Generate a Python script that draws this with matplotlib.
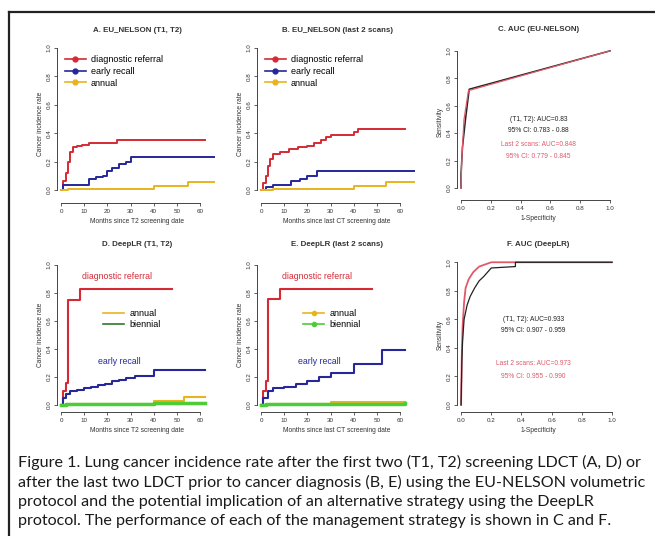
import matplotlib
matplotlib.use("Agg")
import matplotlib.pyplot as plt
from matplotlib.lines import Line2D

W, H = 655, 536

# ---------------- data ----------------
months_ticks = [0, 10, 20, 30, 40, 50, 60]
rate_ticks = [0.0, 0.2, 0.4, 0.6, 0.8, 1.0]
roc_ticks = [0.0, 0.2, 0.4, 0.6, 0.8, 1.0]

# A. EU_NELSON (T1, T2)
a_diag_t = [0, 1, 2, 3, 4, 5, 7, 9, 12, 24, 62]
a_diag_v = [0, 0.06, 0.12, 0.20, 0.27, 0.30, 0.31, 0.32, 0.33, 0.35, 0.35]
a_early_t = [0, 1, 12, 15, 18, 20, 22, 25, 28, 30, 66]
a_early_v = [0, 0.035, 0.08, 0.09, 0.10, 0.13, 0.155, 0.18, 0.20, 0.23, 0.23]
a_annual_t = [0, 3, 20, 40, 55, 66]
a_annual_v = [0, 0.005, 0.01, 0.025, 0.055, 0.055]

# B. EU_NELSON (last 2 scans)
b_diag_t = [0, 1, 2, 3, 4, 5, 8, 12, 16, 20, 23, 26, 28, 30, 40, 42, 62]
b_diag_v = [0, 0.05, 0.10, 0.17, 0.22, 0.25, 0.27, 0.29, 0.30, 0.31, 0.33, 0.35, 0.37, 0.39, 0.41, 0.43, 0.43]
b_early_t = [0, 2, 5, 13, 17, 20, 24, 66]
b_early_v = [0, 0.02, 0.035, 0.065, 0.08, 0.10, 0.13, 0.13]
b_annual_t = [0, 5, 20, 40, 54, 66]
b_annual_v = [0, 0.005, 0.01, 0.025, 0.055, 0.055]

# C. AUC (EU-NELSON)
c_t12_fpr = [0, 0.0, 0.01, 0.03, 0.055, 1.0]
c_t12_tpr = [0, 0.10, 0.30, 0.50, 0.72, 1.0]
c_last_fpr = [0, 0.005, 0.02, 0.05, 1.0]
c_last_tpr = [0, 0.20, 0.50, 0.71, 1.0]
c_text = ["(T1, T2): AUC=0.83", "95% CI: 0.783 - 0.88",
          "Last 2 scans: AUC=0.848", "95% CI: 0.779 - 0.845"]

# D. DeepLR (T1, T2)
d_diag_t = [0, 1, 2, 3, 8, 48]
d_diag_v = [0, 0.10, 0.16, 0.75, 0.83, 0.83]
d_early_t = [0, 1, 2, 4, 7, 10, 13, 16, 19, 22, 25, 28, 32, 40, 62]
d_early_v = [0, 0.05, 0.08, 0.10, 0.11, 0.12, 0.13, 0.14, 0.15, 0.17, 0.18, 0.19, 0.21, 0.25, 0.25]
d_annual_t = [0, 2, 40, 53, 62]
d_annual_v = [0, 0.01, 0.03, 0.06, 0.06]
d_bien_t = [0, 2, 20, 40, 62]
d_bien_v = [0, 0.005, 0.01, 0.015, 0.015]

# E. DeepLR (last 2 scans)
e_diag_t = [0, 1, 2, 3, 8, 48]
e_diag_v = [0, 0.10, 0.17, 0.76, 0.83, 0.83]
e_early_t = [0, 1, 3, 5, 10, 15, 20, 25, 30, 40, 52, 62]
e_early_v = [0, 0.05, 0.10, 0.12, 0.13, 0.15, 0.17, 0.20, 0.23, 0.29, 0.39, 0.39]
e_annual_t = [0, 5, 30, 62]
e_annual_v = [0, 0.01, 0.02, 0.02]
e_bien_t = [0, 2, 62]
e_bien_v = [0, 0.01, 0.012]

# F. AUC (DeepLR)
f_t12_fpr = [0, 0.005, 0.01, 0.02, 0.04, 0.06, 0.09, 0.12, 0.15, 0.20, 0.36, 0.36, 1.0]
f_t12_tpr = [0, 0.30, 0.45, 0.60, 0.70, 0.76, 0.82, 0.87, 0.90, 0.96, 0.97, 1.0, 1.0]
f_last_fpr = [0, 0.005, 0.01, 0.02, 0.03, 0.05, 0.08, 0.12, 0.20, 1.0]
f_last_tpr = [0, 0.35, 0.55, 0.72, 0.82, 0.88, 0.93, 0.97, 1.0, 1.0]
f_text = ["(T1, T2): AUC=0.933", "95% CI: 0.907 - 0.959",
          "Last 2 scans: AUC=0.973", "95% CI: 0.955 - 0.990"]

caption = [
    "Figure 1. Lung cancer incidence rate after the first two (T1, T2) screening LDCT (A, D) or",
    "after the last two LDCT prior to cancer diagnosis (B, E) using the EU-NELSON volumetric",
    "protocol and the potential implication of an alternative strategy using the DeepLR",
    "protocol. The performance of each of the management strategy is shown in C and F.",
]

# ---------------- style ----------------
RED = "#d42a35"
PINK = "#e05a6a"
BLUE = "#25279a"
GOLD = "#e8b41e"
GREEN = "#4ccc36"
TXT = "#333333"
plt.rcParams["font.family"] = ["Liberation Sans", "DejaVu Sans"]

fig = plt.figure(figsize=(W / 100, H / 100), dpi=100)


def px_axes(l, t, r, b):
    return fig.add_axes([l / W, 1 - b / H, (r - l) / W, (b - t) / H])


def r_style(ax, xbounds, ybounds, xticks, yticks, xfmt, yfmt):
    for s in ("top", "right"):
        ax.spines[s].set_visible(False)
    for s in ("left", "bottom"):
        ax.spines[s].set_linewidth(0.7)
        ax.spines[s].set_color("#444444")
    ax.spines["bottom"].set_bounds(*xbounds)
    ax.spines["left"].set_bounds(*ybounds)
    ax.set_xticks(xticks)
    ax.set_xticklabels([xfmt(v) for v in xticks])
    ax.set_yticks(yticks)
    ax.set_yticklabels([yfmt(v) for v in yticks], rotation=90, va="center")
    ax.tick_params(length=2.5, width=0.6, labelsize=4.5, colors="#444444",
                   labelcolor=TXT, pad=1.5)
    ax.patch.set_visible(False)


def km_panel(box, title, xlabel, xlim0, xlim1, ylim0, ylim1):
    ax = px_axes(*box)
    ax.set_xlim(xlim0, xlim1)
    ax.set_ylim(ylim0, ylim1)
    r_style(ax, (0, 60), (0, 1), months_ticks, rate_ticks,
            lambda v: f"{v:d}", lambda v: f"{v:.1f}")
    ax.set_title(title, fontsize=5.7, fontweight="bold", color=TXT, pad=9)
    ax.set_xlabel(xlabel, fontsize=4.8, color=TXT, labelpad=3)
    ax.set_ylabel("Cancer incidence rate", fontsize=4.8, color=TXT, labelpad=2)
    return ax


def roc_panel(box, title, xlim0, xlim1, ylim0, ylim1):
    ax = px_axes(*box)
    ax.set_xlim(xlim0, xlim1)
    ax.set_ylim(ylim0, ylim1)
    r_style(ax, (0, 1), (0, 1), roc_ticks, roc_ticks,
            lambda v: f"{v:.1f}", lambda v: f"{v:.1f}")
    ax.set_title(title, fontsize=5.7, fontweight="bold", color=TXT, pad=9)
    ax.set_xlabel("1-Specificity", fontsize=4.8, color=TXT, labelpad=3)
    ax.set_ylabel("Sensitivity", fontsize=4.8, color=TXT, labelpad=2)
    return ax


# ---- A ----
axA = km_panel((57, 44, 217, 203), "A. EU_NELSON (T1, T2)",
               "Months since T2 screening date", -1.73, 67.3, -0.092, 1.028)
axA.step(a_diag_t, a_diag_v, where="post", color=RED, lw=1.4)
axA.step(a_early_t, a_early_v, where="post", color=BLUE, lw=1.4)
axA.step(a_annual_t, a_annual_v, where="post", color=GOLD, lw=1.4)
hA = [Line2D([], [], color=c, lw=1.2, marker="o", ms=3.5) for c in (RED, BLUE, GOLD)]
axA.legend(hA, ["diagnostic referral", "early recall", "annual"], loc="upper left",
           bbox_to_anchor=(0.01, 0.97), frameon=False, fontsize=6.5,
           handlelength=2.3, handletextpad=0.6, labelspacing=0.3, borderpad=0.2)

# ---- B ----
axB = km_panel((257, 44, 417, 203), "B. EU_NELSON (last 2 scans)",
               "Months since last CT screening date", -1.73, 67.3, -0.092, 1.028)
axB.step(b_diag_t, b_diag_v, where="post", color=RED, lw=1.4)
axB.step(b_early_t, b_early_v, where="post", color=BLUE, lw=1.4)
axB.step(b_annual_t, b_annual_v, where="post", color=GOLD, lw=1.4)
hB = [Line2D([], [], color=c, lw=1.2, marker="o", ms=3.5) for c in (RED, BLUE, GOLD)]
axB.legend(hB, ["diagnostic referral", "early recall", "annual"], loc="upper left",
           bbox_to_anchor=(0.01, 0.97), frameon=False, fontsize=6.5,
           handlelength=2.3, handletextpad=0.6, labelspacing=0.3, borderpad=0.2)

# ---- C ----
axC = roc_panel((457, 44, 620, 200), "C. AUC (EU-NELSON)", -0.027, 1.067, -0.088, 1.05)
axC.plot(c_t12_fpr, c_t12_tpr, color="#222222", lw=1.1)
axC.plot(c_last_fpr, c_last_tpr, color=PINK, lw=0.9)
for txt, y, col in zip(c_text, (0.50, 0.42, 0.32, 0.23), ("#222222", "#222222", PINK, PINK)):
    axC.text(0.52, y, txt, fontsize=4.8, color=col, ha="center", va="center")

# ---- D ----
axD = km_panel((57, 258, 217, 412), "D. DeepLR (T1, T2)",
               "Months since T2 screening date", -1.73, 67.3, -0.05, 1.05)
axD.step(d_diag_t, d_diag_v, where="post", color=RED, lw=1.5)
axD.step(d_early_t, d_early_v, where="post", color=BLUE, lw=1.5)
axD.step(d_annual_t, d_annual_v, where="post", color=GOLD, lw=1.5)
axD.step(d_bien_t, d_bien_v, where="post", color=GREEN, lw=2.5)
axD.text(24, 0.92, "diagnostic referral", fontsize=6.3, color=RED, ha="center", va="center")
axD.text(25, 0.31, "early recall", fontsize=6.3, color=BLUE, ha="center", va="center")
hD = [Line2D([], [], color=GOLD, lw=1.2), Line2D([], [], color="#2f7a2f", lw=1.2)]
axD.legend(hD, ["annual", "biennial"], loc="upper left", bbox_to_anchor=(0.25, 0.71),
           frameon=False, fontsize=6.5, handlelength=2.3, handletextpad=0.6,
           labelspacing=0.2, borderpad=0.2)

# ---- E ----
axE = km_panel((257, 258, 417, 412), "E. DeepLR (last 2 scans)",
               "Months since last CT screening date", -1.73, 67.3, -0.05, 1.05)
axE.step(e_diag_t, e_diag_v, where="post", color=RED, lw=1.5)
axE.step(e_early_t, e_early_v, where="post", color=BLUE, lw=1.5)
axE.step(e_annual_t, e_annual_v, where="post", color=GOLD, lw=1.5)
axE.step(e_bien_t, e_bien_v, where="post", color=GREEN, lw=2.5)
axE.text(24, 0.92, "diagnostic referral", fontsize=6.3, color=RED, ha="center", va="center")
axE.text(25, 0.31, "early recall", fontsize=6.3, color=BLUE, ha="center", va="center")
hE = [Line2D([], [], color=GOLD, lw=1.2, marker="o", ms=3),
      Line2D([], [], color=GREEN, lw=1.2, marker="o", ms=3)]
axE.legend(hE, ["annual", "biennial"], loc="upper left", bbox_to_anchor=(0.25, 0.71),
           frameon=False, fontsize=6.5, handlelength=2.3, handletextpad=0.6,
           labelspacing=0.2, borderpad=0.2)

# ---- F ----
axF = roc_panel((457, 258, 620, 412), "F. AUC (DeepLR)", -0.027, 1.053, -0.05, 1.03)
axF.plot(f_last_fpr, f_last_tpr, color=PINK, lw=1.3)
axF.plot(f_t12_fpr, f_t12_tpr, color="#222222", lw=0.9)
for txt, y, col in zip(f_text, (0.60, 0.52, 0.29, 0.20), ("#222222", "#222222", PINK, PINK)):
    axF.text(0.48, y, txt, fontsize=4.8, color=col, ha="center", va="center")

# ---- frame ----
fig.add_artist(Line2D([9 / W, 1.0], [1 - 12 / H, 1 - 12 / H], color="#222222", lw=1.6,
                      transform=fig.transFigure))
fig.add_artist(Line2D([9 / W, 9 / W], [1 - 12 / H, 0.0], color="#222222", lw=1.6,
                      transform=fig.transFigure))

# ---- caption ----
cap_font = ["Lato", "DejaVu Sans"]
ys = [462, 482, 502, 521]
fig.canvas.draw()
rend = fig.canvas.get_renderer()
probe = fig.text(0, 0, caption[0], fontsize=11, family=cap_font)
wpx = probe.get_window_extent(rend).width
probe.remove()
fs = 11 * 624 / wpx
for line, y in zip(caption, ys):
    fig.text(18 / W, 1 - y / H, line, fontsize=fs, family=cap_font, color="#1a1a1a",
             ha="left", va="center")

fig.savefig("out.png", dpi=100)
